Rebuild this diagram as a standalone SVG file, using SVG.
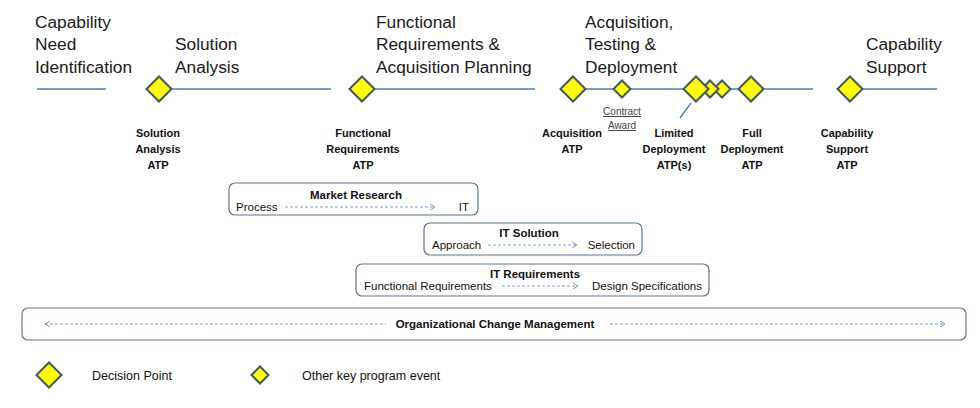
<svg xmlns="http://www.w3.org/2000/svg" width="980" height="408" viewBox="0 0 980 408">
<defs>
<style>
.ph{font-family:"Liberation Sans",Arial,sans-serif;font-size:17.3px;fill:#1a1a1a}
.lb{font-family:"Liberation Sans",Arial,sans-serif;font-size:11px;font-weight:bold;fill:#111;text-anchor:middle}
.sm{font-family:"Liberation Sans",Arial,sans-serif;font-size:10px;fill:#444;text-anchor:middle;text-decoration:underline}
.tx{font-family:"Liberation Sans",Arial,sans-serif;font-size:11.5px;fill:#111}
.lg{font-family:"Liberation Sans",Arial,sans-serif;font-size:12.5px;fill:#111}
.tb{font-family:"Liberation Sans",Arial,sans-serif;font-size:11.5px;font-weight:bold;fill:#111;text-anchor:middle}
.tl{stroke:#4f7cba;stroke-width:1.3;fill:none}
.big{fill:#ffff00;stroke:#3f5668;stroke-width:2}
.box{fill:#fff;stroke:#5f7590;stroke-width:1.2}
.da{stroke:#7f9fcf;stroke-width:1;stroke-dasharray:3,2;fill:none}
</style>
<marker id="ah" markerWidth="8" markerHeight="8" refX="6" refY="4" orient="auto-start-reverse" markerUnits="userSpaceOnUse">
<path d="M1,1 L6,4 L1,7" fill="none" stroke="#7f9fcf" stroke-width="1"/>
</marker>
<path id="dBig" d="M0,-12.5 L12.5,0 L0,12.5 L-12.5,0 Z"/>
<path id="dSm" d="M0,-8.5 L8.5,0 L0,8.5 L-8.5,0 Z"/>
</defs>
<rect width="980" height="408" fill="#fff"/>

<g id="phases">
<text class="ph" x="35" y="28">Capability</text>
<text class="ph" x="35" y="50">Need</text>
<text class="ph" x="35" y="73">Identification</text>
<text class="ph" x="175" y="50">Solution</text>
<text class="ph" x="175" y="73">Analysis</text>
<text class="ph" x="376" y="28">Functional</text>
<text class="ph" x="376" y="50">Requirements &amp;</text>
<text class="ph" x="376" y="73">Acquisition Planning</text>
<text class="ph" x="585" y="28">Acquisition,</text>
<text class="ph" x="585" y="50">Testing &amp;</text>
<text class="ph" x="585" y="73">Deployment</text>
<text class="ph" x="866" y="50">Capability</text>
<text class="ph" x="866" y="73">Support</text>
</g>

<g id="connectors">
<line class="tl" x1="37" y1="89" x2="106" y2="89"/>
<line class="tl" x1="159" y1="89" x2="331" y2="89"/>
<line class="tl" x1="362" y1="89" x2="535" y2="89"/>
<line class="tl" x1="573" y1="89" x2="813" y2="89"/>
<line class="tl" x1="850" y1="89" x2="937" y2="89"/>
<line class="tl" x1="680" y1="118" x2="691" y2="103"/>
</g>

<g id="sa-atp">
<use href="#dBig" class="big" x="159" y="89"/>
<text class="lb" x="158" y="137">Solution</text>
<text class="lb" x="158" y="153">Analysis</text>
<text class="lb" x="158" y="169">ATP</text>
</g>
<g id="fr-atp">
<use href="#dBig" class="big" x="362" y="89"/>
<text class="lb" x="363" y="137">Functional</text>
<text class="lb" x="363" y="153">Requirements</text>
<text class="lb" x="363" y="169">ATP</text>
</g>
<g id="acq-atp">
<use href="#dBig" class="big" x="573" y="89"/>
<text class="lb" x="572" y="137">Acquisition</text>
<text class="lb" x="572" y="153">ATP</text>
</g>
<g id="contract-award">
<use href="#dSm" class="big" x="622" y="89"/>
<text class="sm" x="622" y="115">Contract</text>
<text class="sm" x="622" y="129">Award</text>
</g>
<g id="limited-atp">
<use href="#dSm" class="big" x="722" y="89"/>
<use href="#dSm" class="big" x="710" y="89"/>
<use href="#dBig" class="big" x="696" y="89"/>
<text class="lb" x="674" y="137">Limited</text>
<text class="lb" x="674" y="153">Deployment</text>
<text class="lb" x="674" y="169">ATP(s)</text>
</g>
<g id="full-atp">
<use href="#dBig" class="big" x="751" y="89"/>
<text class="lb" x="752" y="137">Full</text>
<text class="lb" x="752" y="153">Deployment</text>
<text class="lb" x="752" y="169">ATP</text>
</g>
<g id="cs-atp">
<use href="#dBig" class="big" x="850" y="89"/>
<text class="lb" x="847" y="137">Capability</text>
<text class="lb" x="847" y="153">Support</text>
<text class="lb" x="847" y="169">ATP</text>
</g>

<g id="market-research">
<rect class="box" x="229" y="183" width="249" height="32" rx="6"/>
<text class="tb" x="356" y="199">Market Research</text>
<text class="tx" x="236" y="211">Process</text>
<line class="da" x1="285" y1="207" x2="435" y2="207" marker-end="url(#ah)"/>
<text class="tx" x="469" y="211" text-anchor="end">IT</text>
</g>
<g id="it-solution">
<rect class="box" x="424" y="223" width="218" height="32" rx="6"/>
<text class="tb" x="529" y="237">IT Solution</text>
<text class="tx" x="432" y="249">Approach</text>
<line class="da" x1="488" y1="245" x2="577" y2="245" marker-end="url(#ah)"/>
<text class="tx" x="635" y="249" text-anchor="end">Selection</text>
</g>
<g id="it-requirements">
<rect class="box" x="356" y="264" width="353" height="32" rx="6"/>
<text class="tb" x="535" y="278">IT Requirements</text>
<text class="tx" x="364" y="290">Functional Requirements</text>
<line class="da" x1="502" y1="286" x2="578" y2="286" marker-end="url(#ah)"/>
<text class="tx" x="702" y="290" text-anchor="end">Design Specifications</text>
</g>
<g id="ocm">
<rect class="box" x="22" y="308" width="944" height="32" rx="6"/>
<line class="da" x1="45" y1="324" x2="386" y2="324" marker-start="url(#ah)"/>
<text class="tb" x="495" y="328">Organizational Change Management</text>
<line class="da" x1="610" y1="324" x2="945" y2="324" marker-end="url(#ah)"/>
</g>

<g id="legend-decision">
<use href="#dBig" class="big" x="49" y="375"/>
<text class="lg" x="92" y="380">Decision Point</text>
</g>
<g id="legend-other">
<use href="#dSm" class="big" x="260" y="375"/>
<text class="lg" x="302" y="380">Other key program event</text>
</g>
</svg>
